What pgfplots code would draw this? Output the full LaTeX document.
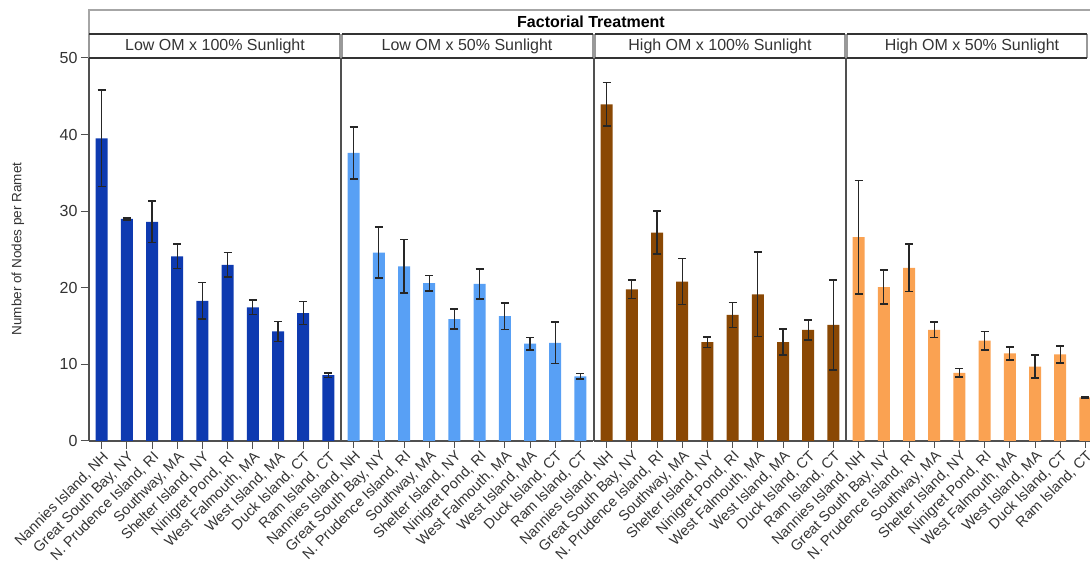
\documentclass[border=0pt]{standalone}
\usepackage{pgfplots}
\pgfplotsset{compat=1.18}
\usepackage{pgfplotstable}
\usepackage{fontspec}
\setmainfont{Liberation Sans}

\definecolor{lowfull}{RGB}{14,58,176}
\definecolor{lowhalf}{RGB}{88,160,245}
\definecolor{highfull}{RGB}{138,72,4}
\definecolor{highhalf}{RGB}{250,162,82}
\definecolor{framegray}{RGB}{80,80,80}

% mean number of nodes per ramet and standard error, by site
\pgfplotstableread{
x  y     e
0  39.5  6.3
1  29.0  0.15
2  28.6  2.7
3  24.1  1.6
4  18.3  2.4
5  23.0  1.6
6  17.45 0.95
7  14.3  1.3
8  16.7  1.5
9  8.6   0.3
}\lowFull
\pgfplotstableread{
x  y     e
0  37.6  3.4
1  24.6  3.3
2  22.8  3.5
3  20.6  1.0
4  15.9  1.3
5  20.5  1.95
6  16.3  1.75
7  12.7  0.8
8  12.8  2.7
9  8.45  0.35
}\lowHalf
\pgfplotstableread{
x  y     e
0  43.95 2.85
1  19.8  1.2
2  27.2  2.8
3  20.8  3.0
4  12.9  0.7
5  16.45 1.65
6  19.15 5.5
7  12.9  1.7
8  14.5  1.3
9  15.15 5.9
}\highFull
\pgfplotstableread{
x  y     e
0  26.6  7.4
1  20.1  2.2
2  22.6  3.1
3  14.5  1.0
4  8.9   0.55
5  13.1  1.2
6  11.45 0.85
7  9.7   1.5
8  11.3  1.1
9  5.7   0.05
}\highHalf

\pgfplotsset{
  panel/.style={
    scale only axis, width=252pt, height=383pt,
    anchor=south west,
    xmin=-0.5, xmax=9.5, ymin=0, ymax=50,
    axis x line*=bottom, axis y line*=left,
    axis line style={framegray, line width=1.2pt},
    xtick={0,...,9},
    xticklabels={{Nannies Island, NH},{Great South Bay, NY},{N. Prudence Island, RI},{Southway, MA},{Shelter Island, NY},{Ninigret Pond, RI},{West Falmouth, MA},{West Island, MA},{Duck Island, CT},{Ram Island, CT}},
    xticklabel style={rotate=45, anchor=north east, inner sep=1pt,
      font=\fontsize{14.5}{16}\selectfont, text=black!80},
    tick align=outside, major tick length=7pt,
    tick style={framegray, line width=1pt},
    ytick=\empty,
  },
  bars/.style={
    ybar, bar width=12pt, draw=none, fill=#1,
    error bars/.cd, y dir=both, y explicit,
    error bar style={black!85, line width=1.3pt},
    error mark options={rotate=90, mark size=4pt, black!85, line width=1.6pt},
  },
}

\begin{document}
\begin{tikzpicture}[x=1pt, y=1pt]
\useasboundingbox (0,0) rectangle (1090,569);
\clip (0,0) rectangle (1090,569);

\begin{axis}[panel, at={(89pt,128pt)},
  ytick={0,10,...,50},
  yticklabel style={font=\fontsize{16}{18}\selectfont, text=black!80},
  /pgf/number format/assume math mode=true,
  major tick length=8pt]
\addplot[bars=lowfull] table[x=x, y=y, y error=e] {\lowFull};
\end{axis}

\begin{axis}[panel, at={(341pt,128pt)}]
\addplot[bars=lowhalf] table[x=x, y=y, y error=e] {\lowHalf};
\end{axis}

\begin{axis}[panel, at={(594pt,128pt)}]
\addplot[bars=highfull] table[x=x, y=y, y error=e] {\highFull};
\end{axis}

\begin{axis}[panel, at={(846pt,128pt)}]
\addplot[bars=highhalf] table[x=x, y=y, y error=e] {\highHalf};
\end{axis}

% y-axis title
\node[rotate=90, font=\fontsize{13.5}{15}\selectfont, text=black!80] at (18,320) {Number of Nodes per Ramet};

% header box
\draw[gray!70, line width=1.5pt] (89,535) -- (89,559) -- (1098,559);
\node[font=\bfseries\fontsize{16}{18}\selectfont] at (591,547) {Factorial Treatment};

% treatment strips
\foreach \l/\r in {89/340,342/593,595/845,847/1087}{
  \draw[gray!80, line width=1.2pt] (\l,511) -- (\l,535);
  \draw[gray!80, line width=1.2pt] (\r,511) -- (\r,535);
  \draw[black!80, line width=2pt] (\l,511) -- (\r,511);
  \draw[black!80, line width=2pt] (\l,535) -- (\r,535);
}
\node[font=\fontsize{16}{18}\selectfont, text=black!80] at (215,523) {Low OM x 100\% Sunlight};
\node[font=\fontsize{16}{18}\selectfont, text=black!80] at (467,523) {Low OM x 50\% Sunlight};
\node[font=\fontsize{16}{18}\selectfont, text=black!80] at (720,523) {High OM x 100\% Sunlight};
\node[font=\fontsize{16}{18}\selectfont, text=black!80] at (972,523) {High OM x 50\% Sunlight};
\end{tikzpicture}
\end{document}
